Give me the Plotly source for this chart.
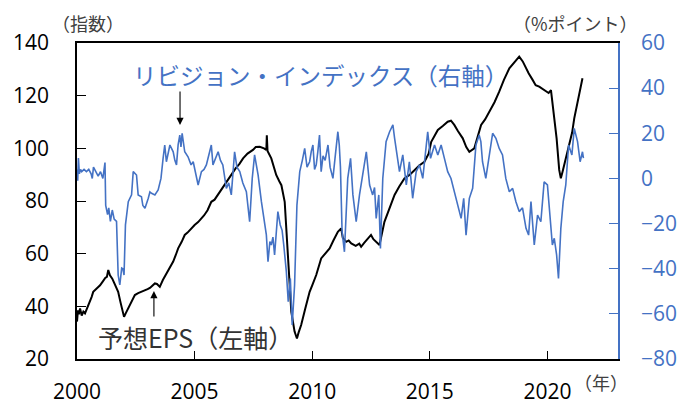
import plotly.graph_objects as go

# ---- Data ----
eps_t = [2000.00, 2000.04, 2000.08, 2000.13, 2000.2, 2000.27, 2000.34, 2000.45, 2000.55, 2000.62, 2000.69,
         2000.8, 2000.9, 2000.98, 2001.1, 2001.2, 2001.27, 2001.33, 2001.4, 2001.5, 2001.6, 2001.75, 2001.85,
         2001.93, 2002.0, 2002.08, 2002.18, 2002.3, 2002.46, 2002.6, 2002.75, 2002.89, 2003.0, 2003.1, 2003.2,
         2003.31, 2003.4, 2003.52, 2003.65, 2003.8, 2003.95, 2004.09, 2004.2, 2004.3, 2004.45, 2004.58,
         2004.7, 2004.85, 2005.0, 2005.15, 2005.29, 2005.4, 2005.55, 2005.71, 2005.85, 2006.0, 2006.2,
         2006.35, 2006.5, 2006.75, 2006.9, 2007.06, 2007.25, 2007.48, 2007.6, 2007.77, 2007.95, 2008.05,
         2008.07, 2008.1, 2008.26, 2008.47, 2008.6, 2008.69, 2008.83, 2008.9, 2008.97, 2009.11, 2009.25,
         2009.35, 2009.42, 2009.53, 2009.7, 2009.89, 2010.0, 2010.17, 2010.38, 2010.55, 2010.74, 2010.9,
         2011.09, 2011.23, 2011.3, 2011.45, 2011.55, 2011.66, 2011.85, 2012.0, 2012.08, 2012.2, 2012.3,
         2012.42, 2012.5, 2012.6, 2012.7, 2012.86, 2013.07, 2013.3, 2013.5, 2013.7, 2013.92, 2014.15,
         2014.35, 2014.55, 2014.77, 2014.95, 2015.06, 2015.2, 2015.34, 2015.55, 2015.76, 2015.9, 2016.04,
         2016.2, 2016.4, 2016.55, 2016.68, 2016.89, 2017.05, 2017.18, 2017.35, 2017.53, 2017.75, 2017.95,
         2018.15, 2018.38, 2018.6, 2018.8, 2018.95, 2019.09, 2019.2, 2019.37, 2019.5, 2019.65, 2019.8,
         2019.94, 2020.05, 2020.15, 2020.25, 2020.39, 2020.5, 2020.57, 2020.64, 2020.71, 2020.8, 2020.93,
         2021.05, 2021.14, 2021.25, 2021.35, 2021.49]
eps_v = [34.2, 38.5, 37.0, 39.2, 36.5, 38.0, 37.3, 39.5, 41.7, 43.5, 45.5,
         46.5, 47.3, 48.0, 49.5, 50.8, 51.2, 53.8, 51.8, 50.5, 48.5, 45.5, 41.5,
         38.5, 36.0, 37.5, 39.2, 41.5, 44.3, 45.0, 45.5, 46.2, 46.5, 47.0, 47.8,
         48.7, 48.5, 47.4, 50.0, 52.5, 54.8, 57.0, 59.5, 62.0, 64.5, 67.1,
         68.0, 69.5, 70.9, 72.0, 73.4, 74.5, 76.5, 79.7, 80.5, 82.5, 84.8,
         87.0, 89.2, 92.5, 94.0, 96.2, 98.0, 99.4, 100.5, 100.6, 100.0, 99.4,
         105.0, 99.0, 96.2, 89.9, 87.5, 86.0, 79.7, 70.0, 58.2, 38.0, 30.4,
         27.8, 30.0, 32.9, 39.0, 45.5, 48.0, 51.9, 58.2, 60.0, 62.0, 65.0,
         68.3, 69.6, 66.0, 64.5, 65.0, 63.9, 63.0, 63.8, 62.6, 64.0, 65.0,
         66.5, 67.1, 65.5, 64.5, 63.3, 72.1, 78.0, 82.3, 85.5, 88.6, 90.0,
         91.8, 93.5, 94.9, 98.0, 102.5, 105.0, 107.0, 108.5, 110.1, 110.5, 108.9,
         106.5, 103.8, 100.5, 98.7, 100.0, 105.0, 108.9, 111.0, 113.9, 117.5, 121.5,
         126.0, 130.4, 132.5, 134.8, 133.0, 130.4, 128.5, 126.0, 124.0, 123.4, 122.5,
         121.5, 121.0, 122.1, 113.9, 103.8, 91.8, 88.6, 91.0, 93.7, 96.0, 101.3,
         106.0, 111.4, 116.0, 120.3, 126.6]

rev_t = [2000.00, 2000.03, 2000.06, 2000.1, 2000.15, 2000.2, 2000.3, 2000.4, 2000.5, 2000.6, 2000.65,
         2000.7, 2000.8, 2000.9, 2001.0, 2001.1, 2001.19, 2001.22, 2001.3, 2001.35, 2001.42, 2001.5,
         2001.58, 2001.68, 2001.75, 2001.82, 2001.9, 2001.95, 2002.0, 2002.06, 2002.18, 2002.32, 2002.39,
         2002.53, 2002.6, 2002.74, 2002.8, 2002.89, 2003.03, 2003.1, 2003.17, 2003.31, 2003.45, 2003.57,
         2003.66, 2003.73, 2003.8, 2003.88, 2003.95, 2004.09, 2004.16, 2004.23, 2004.3, 2004.37, 2004.42,
         2004.47, 2004.52, 2004.58, 2004.72, 2004.85, 2004.94, 2005.05, 2005.15, 2005.29, 2005.4, 2005.5,
         2005.6, 2005.71, 2005.78, 2005.9, 2006.0, 2006.1, 2006.2, 2006.35, 2006.45, 2006.56, 2006.7,
         2006.8, 2006.92, 2007.05, 2007.2, 2007.34, 2007.45, 2007.55, 2007.7, 2007.84, 2007.98, 2008.05,
         2008.12, 2008.2, 2008.26, 2008.33, 2008.4, 2008.54, 2008.64, 2008.72, 2008.79, 2008.9, 2008.98,
         2009.07, 2009.15, 2009.25, 2009.35, 2009.47, 2009.58, 2009.68, 2009.78, 2009.89, 2009.96, 2010.03,
         2010.1, 2010.17, 2010.24, 2010.31, 2010.38, 2010.46, 2010.55, 2010.67, 2010.76, 2010.88, 2010.97,
         2011.09, 2011.15, 2011.2, 2011.27, 2011.37, 2011.51, 2011.63, 2011.73, 2011.87, 2012.01, 2012.15,
         2012.3, 2012.44, 2012.57, 2012.65, 2012.72, 2012.83, 2012.9, 2013.0, 2013.14, 2013.29, 2013.43,
         2013.5, 2013.57, 2013.71, 2013.85, 2014.0, 2014.13, 2014.27, 2014.42, 2014.56, 2014.7, 2014.84,
         2014.91, 2015.03, 2015.2, 2015.34, 2015.48, 2015.62, 2015.76, 2015.9, 2016.04, 2016.18, 2016.33,
         2016.44, 2016.54, 2016.68, 2016.82, 2016.96, 2017.1, 2017.17, 2017.24, 2017.38, 2017.53, 2017.67,
         2017.81, 2017.95, 2018.09, 2018.23, 2018.38, 2018.52, 2018.66, 2018.8, 2018.94, 2019.09, 2019.2,
         2019.3, 2019.44, 2019.58, 2019.72, 2019.86, 2020.0, 2020.1, 2020.21, 2020.29, 2020.39, 2020.47,
         2020.57, 2020.67, 2020.78, 2020.9, 2021.04, 2021.14, 2021.28, 2021.39, 2021.49, 2021.53]
rev_v = [4, -1, 9, 2, 4, 3, 4, 3, 4, 2, 0,
         5, 3, 1, 3, 0, 7, -12, -16, -13, -19, -14,
         -18, -19, -42.8, -47.2, -39.7, -40, -42.8, -20.6, -10.3, -7.3, 3,
         1.5, -7.3, -8.1, -12, -13.2, -8.8, -6, -6.6, -7.3, -5.1, 0,
         8.9, 14.8, 7.4, 11, 14.8, 11.8, 8, 6, 15, 19.2, 14,
         20, 15, 11.8, 9.6, 6, 7.4, 2, -2.9, 3, 4, 6,
         10, 14.8, 6, 9, 11.8, 8, 6, -4.4, -2, -7.3, 11.8,
         5, 3, -2, -5.9, -19.2, 0, 10.4, 1.5, -10.3, -19.2, -25,
         -36.9, -28, -29.5, -26, -33.9, -14.7, -20.6, -23, -29.5, -41.3, -54.6,
         -44.3, -64.9, -47.2, -11.8, 3, 8, 13.3, 5, 7.4, 12, 14.8,
         4, 6, 12, 19.2, 3, 10, 8, 14.8, 5, 0, 9,
         20.7, 14.8, 5, -23.6, -32.5, 0, 8.9, -7.3, -19.2, -7.3, 3,
         11.8, -2.9, -7.3, -4, -17.7, -7.3, -31, 0, 16.3, 20.7, 23.7,
         18, 13.3, 3, 10.4, -2.9, 7.4, -8.8, 3, 6, 0, 13.3,
         20.7, 8.9, 14.8, 10.4, 14.8, 8.9, 3, 0, -5.9, -11.8, -17.7,
         -8.8, -25.1, -8.8, -4.4, 14.8, 19.2, 16.3, 7.4, 0, 10.4, 20,
         17.8, 13.3, 10.4, 0, -5.9, -4.4, -10.3, -14.7, -13, -22.1, -25.1,
         -10.3, -29.5, -16.2, -19.2, -1.5, -2.9, -17.7, -29.5, -26.5, -33.9, -44.3,
         -22.1, -10.3, -2.9, 14.8, 10.4, 22.2, 16.3, 7.4, 11.8, 9]

x_ticks = [2000, 2005, 2010, 2015, 2020]
y_left_ticks = [20, 40, 60, 80, 100, 120, 140]
y_right_ticks = [-80, -60, -40, -20, 0, 20, 40, 60]

BLUE = "#4472C4"
FONT = "Noto Sans CJK JP"
NUMFONT = "Open Sans"

fig = go.Figure()
fig.add_trace(go.Scatter(x=rev_t, y=rev_v, mode="lines", yaxis="y2",
                         line=dict(color=BLUE, width=1.6), showlegend=False))
fig.add_trace(go.Scatter(x=eps_t, y=eps_v, mode="lines", yaxis="y",
                         line=dict(color="#000000", width=2), showlegend=False))

fig.update_layout(
    width=682, height=406,
    margin=dict(l=77, r=64, t=43, b=47),
    paper_bgcolor="white", plot_bgcolor="white",
    font=dict(family=FONT, color="#000000"),
    xaxis=dict(range=[2000, 2023], tickvals=x_ticks, ticktext=[str(v) for v in x_ticks],
               ticks="inside", ticklen=8, tickwidth=1.3, tickcolor="#000",
               showline=True, linecolor="#000", linewidth=1.5, mirror=True,
               showgrid=False, zeroline=False, tickfont=dict(size=21, family=NUMFONT),
               ticklabelstandoff=13, automargin=False),
    yaxis=dict(range=[20, 140], tickvals=y_left_ticks, ticks="inside", ticklen=9, tickwidth=1.3,
               tickcolor="#000", showline=True, linecolor="#000", linewidth=1.5,
               showgrid=False, zeroline=False, tickfont=dict(size=21, family=NUMFONT),
               ticklabelstandoff=22, automargin=False),
    yaxis2=dict(range=[-80, 60], tickvals=y_right_ticks, overlaying="y", side="right",
                ticks="inside", ticklen=9, tickwidth=1.3, tickcolor=BLUE,
                showline=True, linecolor=BLUE, linewidth=1.5, showgrid=False, zeroline=False,
                tickfont=dict(size=21, family=NUMFONT, color=BLUE), ticklabelstandoff=17,
                automargin=False),
)

ann = []
ann.append(dict(text="（指数）", xref="paper", yref="paper", x=-0.05, y=1.063,
                xanchor="left", yanchor="middle", showarrow=False,
                font=dict(size=18, color="#404040", family=FONT)))
ann.append(dict(text="（%ポイント）", xref="paper", yref="paper", x=0.803, y=1.063,
                xanchor="left", yanchor="middle", showarrow=False,
                font=dict(size=18, color="#404040", family=FONT)))
ann.append(dict(text="（年）", xref="paper", yref="paper", x=0.915, y=-0.073,
                xanchor="left", yanchor="middle", showarrow=False,
                font=dict(size=18, color="#404040", family=FONT)))
ann.append(dict(text="リビジョン・インデックス（右軸）", xref="paper", yref="paper", x=0.1, y=0.899,
                xanchor="left", yanchor="middle", showarrow=False,
                font=dict(size=23.5, color=BLUE, family=FONT)))
ann.append(dict(text="予想EPS（左軸）", xref="paper", yref="paper", x=0.035, y=0.0696,
                xanchor="left", yanchor="middle", showarrow=False,
                font=dict(size=25, color="#333333", family=FONT)))
# arrows
ann.append(dict(text="", xref="x", yref="paper", x=2004.38, y=0.7405, ax=0, ay=-35,
                showarrow=True, arrowhead=2, arrowsize=1.3, arrowwidth=1.1, arrowcolor="#000"))
ann.append(dict(text="", xref="x", yref="paper", x=2003.27, y=0.215, ax=0, ay=27,
                showarrow=True, arrowhead=2, arrowsize=1.3, arrowwidth=1.1, arrowcolor="#000"))
fig.update_layout(annotations=ann)

fig.write_html("out.html")
